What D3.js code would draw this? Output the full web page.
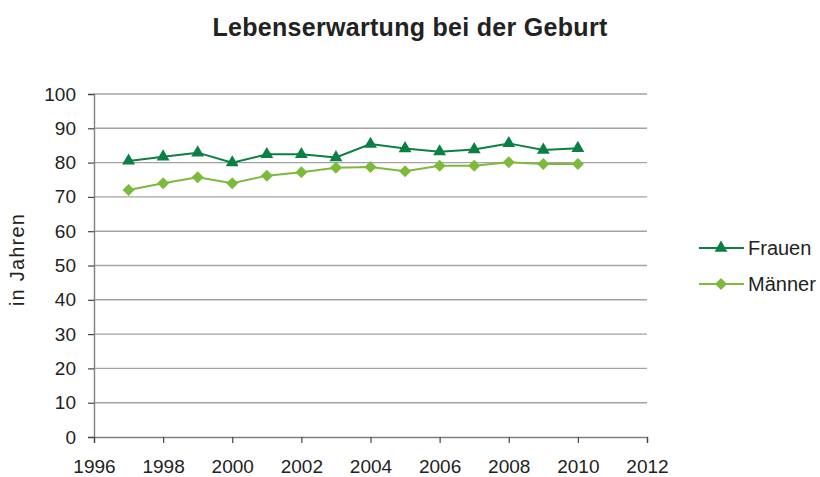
<!DOCTYPE html>
<html>
<head>
<meta charset="utf-8">
<script src="https://cdn.jsdelivr.net/npm/d3@7"></script>
<style>
  body { margin: 0; background: #fff; }
  text { font-family: "Liberation Sans", Arial, sans-serif; }
</style>
</head>
<body>
<div id="chart"></div>
<script>
const width = 820;
const height = 477;
const margin = {top: 94, right: 173, bottom: 40, left: 94};

const years = [1997, 1998, 1999, 2000, 2001, 2002, 2003, 2004, 2005, 2006, 2007, 2008, 2009, 2010];
const frauen = [80.5, 81.7, 82.9, 80.0, 82.4, 82.4, 81.5, 85.4, 84.1, 83.2, 83.8, 85.6, 83.7, 84.2];
const maenner = [72.0, 74.0, 75.7, 74.0, 76.2, 77.2, 78.5, 78.7, 77.5, 79.1, 79.1, 80.1, 79.6, 79.6];
const xTicks = [1996, 1998, 2000, 2002, 2004, 2006, 2008, 2010, 2012];
const yTicks = [0, 10, 20, 30, 40, 50, 60, 70, 80, 90, 100];

const colFrauen = "#0b8043";
const colMaenner = "#7dba3c";

const svg = d3.select("#chart").append("svg")
  .attr("width", width)
  .attr("height", height);

const x = d3.scaleLinear().domain([1996, 2012]).range([margin.left, width - margin.right]);
const y = d3.scaleLinear().domain([0, 100]).range([height - margin.bottom, margin.top]);

// gridlines
svg.append("g").selectAll("line")
  .data(yTicks.slice(1))
  .join("line")
  .attr("x1", x(1996)).attr("x2", x(2012))
  .attr("y1", d => y(d)).attr("y2", d => y(d))
  .attr("stroke", "#a3a3a3")
  .attr("stroke-width", 1.4);

// y axis
const yAxis = svg.append("g")
  .attr("transform", `translate(${x(1996)},0)`)
  .call(d3.axisLeft(y).tickValues(yTicks).tickSize(6).tickPadding(12));
yAxis.selectAll("text").style("font-size", "19px").attr("fill", "#222");

// x axis
const xAxis = svg.append("g")
  .attr("transform", `translate(0,${y(0)})`)
  .call(d3.axisBottom(x).tickValues(xTicks).tickFormat(d3.format("d")).tickSize(6).tickPadding(17));
xAxis.selectAll("text").style("font-size", "19px").attr("fill", "#222");

svg.selectAll(".domain").attr("stroke", "#808080").attr("stroke-width", 1.4);
svg.selectAll(".tick line").attr("stroke", "#444").attr("stroke-width", 1.2);

const line = vals => d3.line().x((d, i) => x(years[i])).y(d => y(d))(vals);

svg.append("path").attr("d", line(maenner))
  .attr("fill", "none").attr("stroke", colMaenner).attr("stroke-width", 2);
svg.append("path").attr("d", line(frauen))
  .attr("fill", "none").attr("stroke", colFrauen).attr("stroke-width", 2);

const tri = d3.symbol().type(d3.symbolTriangle).size(72);
const dia = d3.symbol().type(d3.symbolSquare).size(72);

svg.append("g").selectAll("path")
  .data(maenner)
  .join("path")
  .attr("d", dia)
  .attr("transform", (d, i) => `translate(${x(years[i])},${y(d)}) rotate(45)`)
  .attr("fill", colMaenner);

svg.append("g").selectAll("path")
  .data(frauen)
  .join("path")
  .attr("d", tri)
  .attr("transform", (d, i) => `translate(${x(years[i])},${y(d)})`)
  .attr("fill", colFrauen);

// title
svg.append("text")
  .attr("x", 410).attr("y", 36)
  .attr("text-anchor", "middle")
  .style("font-size", "25px")
  .style("font-weight", "bold")
  .style("letter-spacing", "0.3px")
  .attr("fill", "#222")
  .text("Lebenserwartung bei der Geburt");

// y label
svg.append("text")
  .attr("transform", `translate(24,${y(50) - 6}) rotate(-90)`)
  .attr("text-anchor", "middle")
  .style("font-size", "20px")
  .style("letter-spacing", "1.2px")
  .attr("fill", "#222")
  .text("in Jahren");

// legend
const legend = [
  {name: "Frauen", color: colFrauen, sym: tri, y: 248, rot: 0},
  {name: "Männer", color: colMaenner, sym: dia, y: 284, rot: 45}
];
legend.forEach(l => {
  svg.append("line")
    .attr("x1", 699).attr("x2", 744)
    .attr("y1", l.y).attr("y2", l.y)
    .attr("stroke", l.color).attr("stroke-width", 2);
  svg.append("path")
    .attr("d", l.sym)
    .attr("transform", `translate(721,${l.y}) rotate(${l.rot})`)
    .attr("fill", l.color);
  svg.append("text")
    .attr("x", 748).attr("y", l.y + 7)
    .style("font-size", "20px")
    .attr("fill", "#222")
    .text(l.name);
});
</script>
</body>
</html>
